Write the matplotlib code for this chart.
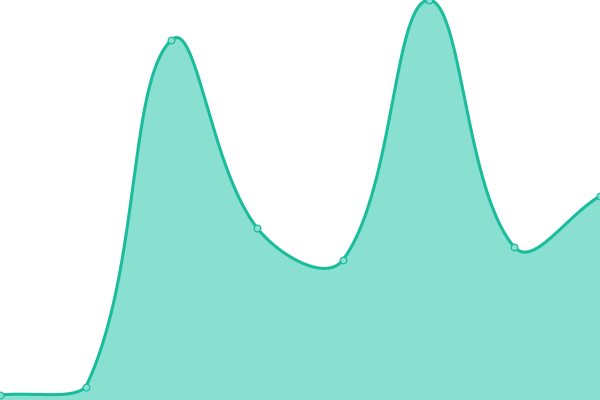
import numpy as np
import matplotlib.pyplot as plt

# values (8 evenly spaced points)
x_points = [0, 1, 2, 3, 4, 5, 6, 7]
y_values = [5, 13, 360, 172, 140, 400, 153, 204]

line_color = '#1abc9c'
fill_color = '#8ae0d0'
tension = 0.4
y_max = 400


def spline_curve(xs, ys, sx=600 / 7, sy=1.0, steps=60):
    # tension spline (control points scaled by segment lengths), done in pixel space,
    # control points kept inside the plot area
    pts = np.column_stack([np.asarray(xs, float) * sx, np.asarray(ys, float) * sy])
    n = len(pts)
    lo = np.array([pts[0, 0], 0.0])
    hi = np.array([pts[-1, 0], y_max * sy])
    cp_prev, cp_next = [], []
    for i in range(n):
        cur = pts[i]
        prev = pts[i - 1] if i > 0 else cur
        nxt = pts[i + 1] if i < n - 1 else cur
        d01 = np.hypot(*(cur - prev))
        d12 = np.hypot(*(nxt - cur))
        s = d01 + d12
        s01 = d01 / s if s else 0.0
        s12 = d12 / s if s else 0.0
        v = nxt - prev
        cp_prev.append(np.clip(cur - tension * s01 * v, lo, hi))
        cp_next.append(np.clip(cur + tension * s12 * v, lo, hi))
    out = []
    t = np.linspace(0, 1, steps)[:, None]
    for i in range(n - 1):
        p0, c0, c1, p1 = pts[i], cp_next[i], cp_prev[i + 1], pts[i + 1]
        seg = ((1 - t) ** 3 * p0 + 3 * (1 - t) ** 2 * t * c0
               + 3 * (1 - t) * t ** 2 * c1 + t ** 3 * p1)
        out.append(seg if i == 0 else seg[1:])
    out = np.vstack(out)
    return out[:, 0] / sx, out[:, 1] / sy


cx, cy = spline_curve(x_points, y_values)

fig = plt.figure(figsize=(6, 4), dpi=100)
ax = fig.add_axes([0, 0, 1, 1])
ax.fill_between(cx, cy, 0, color=fill_color, linewidth=0)
ax.plot(cx, cy, color=line_color, linewidth=2.2)
ax.plot(x_points, y_values, 'o', markersize=4.8, markerfacecolor=fill_color,
        markeredgecolor=line_color, markeredgewidth=0.9, clip_on=False)

ax.set_xlim(0, 7)
ax.set_ylim(0, y_max)
ax.axis('off')
plt.savefig('out.png', dpi=100)
